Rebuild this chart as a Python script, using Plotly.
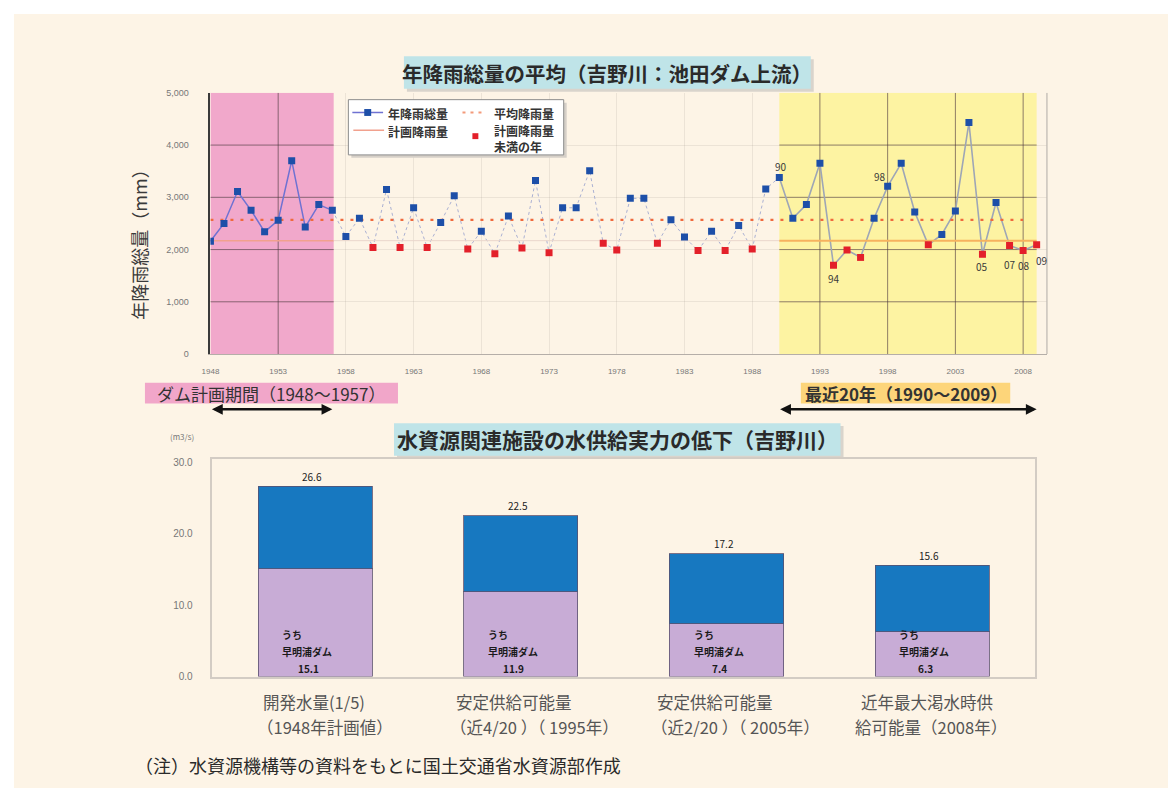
import plotly.graph_objects as go

# ---------------- data: annual rainfall above Ikeda Dam (Yoshino River) ----------------
years = list(range(1948, 2010))
rainfall = [
    2160, 2500, 3110, 2750, 2340, 2560, 3700, 2430, 2860, 2750,   # 1948-1957
    2250, 2600, 2040, 3150, 2040, 2800, 2040, 2520, 3030, 2010,   # 1958-1967
    2350, 1920, 2640, 2030, 3320, 1940, 2800, 2800, 3510, 2120,   # 1968-1977
    1990, 2980, 2980, 2120, 2570, 2240, 1980, 2350, 1980, 2460,   # 1978-1987
    2010, 3160, 3380, 2600, 2860, 3650, 1700, 1990, 1850, 2600,   # 1988-1997
    3210, 3650, 2720, 2090, 2290, 2740, 4430, 1910, 2900, 2080,   # 1998-2007
    1980, 2090,                                                   # 2008-2009
]
plan_rain = 2170          # planned rainfall
mean_rain = 2570          # average rainfall
plan_period = (1948, 1957.1)
recent_period = (1990, 2009)
point_labels = {1990: "90", 1994: "94", 1998: "98", 2005: "05", 2007: "07", 2008: "08", 2009: "09"}

top_xticks = list(range(1948, 2009, 5))
top_yticks = [0, 1000, 2000, 3000, 4000, 5000]
top_yticklabels = ["0", "1,000", "2,000", "3,000", "4,000", "5,000"]

# ---------------- data: water supply capacity ----------------
bar_categories = ["開発水量", "安定供給可能量1995", "安定供給可能量2005", "近年最大渇水時"]
bar_label_line1 = ["開発水量(1/5)", "安定供給可能量", "安定供給可能量", "近年最大渇水時供"]
bar_label_line2 = ["（1948年計画値）", "（近4/20 ）（ 1995年）", "（近2/20 ）（ 2005年）",
                   "給可能量（2008年）"]
supply_total = [26.6, 22.5, 17.2, 15.6]
supply_sameura = [15.1, 11.9, 7.4, 6.3]
supply_other = [round(t - s, 1) for t, s in zip(supply_total, supply_sameura)]
bot_yticks = [0, 10, 20, 30]
bot_yticklabels = ["0.0", "10.0", "20.0", "30.0"]

# ---------------- layout helpers ----------------
W, H = 1168, 794
FONT = "Noto Sans CJK JP"
CREAM = "#fdf4e6"


def px(x):
    return x / W


def py(y):
    return 1 - y / H


fig = go.Figure()


# rainfall line drawn in three styles over the three periods
def segment(lo, hi):
    xs = [y for y in years if lo <= y <= hi]
    vs = [rainfall[years.index(y)] for y in xs]
    return xs, vs


for (lo, hi), style in [
    ((1948, 1957), dict(color="#6f72d2", width=1.5)),
    ((1957, 1990), dict(color="#aab0d2", width=1, dash="dot")),
    ((1990, 2009), dict(color="#9ea6b6", width=1.6)),
]:
    xs, vs = segment(lo, hi)
    fig.add_trace(go.Scatter(x=xs, y=vs, mode="lines", line=style,
                             hoverinfo="skip", showlegend=False, xaxis="x", yaxis="y"))

# planned rainfall line
for (lo, hi), style in [
    ((1948, plan_period[1]), dict(color="#f1a18e", width=1.6)),
    ((plan_period[1], 1990), dict(color="#ead6cc", width=1)),
    ((1990, 2009), dict(color="#f6b25e", width=2)),
]:
    fig.add_trace(go.Scatter(x=[lo, hi], y=[plan_rain, plan_rain], mode="lines", line=style,
                             hoverinfo="skip", showlegend=False, xaxis="x", yaxis="y"))

# average rainfall (dotted)
fig.add_trace(go.Scatter(x=[1948, 2008], y=[mean_rain, mean_rain], mode="lines",
                         line=dict(color="#f0693c", width=2.2, dash="3px,7px"),
                         hoverinfo="skip", showlegend=False, xaxis="x", yaxis="y"))

# yearly markers: red where rainfall fell short of the plan after the planning period
colors = ["#e3202a" if (y > plan_period[1] and v < plan_rain) else "#1d4fa8"
          for y, v in zip(years, rainfall)]
fig.add_trace(go.Scatter(x=years, y=rainfall, mode="markers",
                         marker=dict(symbol="square", size=7, color=colors, line=dict(width=0)),
                         hoverinfo="x+y", showlegend=False, xaxis="x", yaxis="y"))

# stacked supply bars
fig.add_trace(go.Bar(x=bar_categories, y=supply_sameura, marker=dict(color="#c8acd6",
                     line=dict(color="rgba(90,80,110,0.8)", width=1)),
                     showlegend=False, xaxis="x2", yaxis="y2", hoverinfo="y"))
fig.add_trace(go.Bar(x=bar_categories, y=supply_other, marker=dict(color="#1778c0",
                     line=dict(color="rgba(90,80,110,0.8)", width=1)),
                     showlegend=False, xaxis="x2", yaxis="y2", hoverinfo="y"))

shapes = []
annotations = []


def note(x, y, text, size, color="#333", xanchor="center", **kw):
    annotations.append(dict(xref="paper", yref="paper", x=px(x), y=py(y), text=text,
                            showarrow=False, xanchor=xanchor, yanchor="middle",
                            font=dict(family=FONT, size=size, color=color), **kw))


# page background
shapes.append(dict(type="rect", xref="paper", yref="paper", x0=px(5), x1=1, y0=0, y1=py(9),
                   fillcolor=CREAM, line=dict(width=0), layer="below"))

# shaded periods
shapes.append(dict(type="rect", xref="x", yref="y", x0=plan_period[0], x1=plan_period[1],
                   y0=0, y1=5000, fillcolor="#f1a8cb", line=dict(width=0), layer="below"))
shapes.append(dict(type="rect", xref="x", yref="y", x0=recent_period[0], x1=recent_period[1],
                   y0=0, y1=5000, fillcolor="#fdf3a2", line=dict(width=0), layer="below"))

# darker grid inside shaded periods
DARK = "rgba(70,45,55,0.55)"
for lo, hi in [plan_period, recent_period]:
    for yv in top_yticks:
        if 0 < yv < 5000:
            shapes.append(dict(type="line", xref="x", yref="y", x0=lo, x1=hi, y0=yv, y1=yv,
                               line=dict(color=DARK, width=1), layer="between"))
    for xv in top_xticks:
        if lo < xv <= hi:
            shapes.append(dict(type="line", xref="x", yref="y", x0=xv, x1=xv, y0=0, y1=5000,
                               line=dict(color=DARK, width=1), layer="between"))

# right border of the rainfall plot
shapes.append(dict(type="line", xref="paper", yref="y", x0=px(1046), x1=px(1046), y0=0, y1=5000,
                   line=dict(color="#bdb6b0", width=1.2)))


# title boxes (with a soft shadow)
def title_box(x0, x1, y0, y1, text, size):
    shapes.append(dict(type="rect", xref="paper", yref="paper", x0=px(x0 + 3), x1=px(x1 + 3),
                       y0=py(y1 + 3), y1=py(y0 + 3), fillcolor="#d9d4cc", line=dict(width=0),
                       layer="below"))
    shapes.append(dict(type="rect", xref="paper", yref="paper", x0=px(x0), x1=px(x1),
                       y0=py(y1), y1=py(y0), fillcolor="#bfe4e8", line=dict(width=0),
                       layer="below"))
    note((x0 + x1) / 2, (y0 + y1) / 2, f"<b>{text}</b>", size, "#2a2a2a")


title_box(398, 808, 52, 85, "年降雨総量の平均（吉野川：池田ダム上流）", 20.5)
title_box(388, 838, 424, 457, "水資源関連施設の水供給実力の低下（吉野川）", 21)

# hand-built legend
shapes.append(dict(type="rect", xref="paper", yref="paper", x0=px(345), x1=px(562),
                   y0=py(155), y1=py(99), fillcolor="#d6d0c8", line=dict(width=0), layer="above"))
shapes.append(dict(type="rect", xref="paper", yref="paper", x0=px(342), x1=px(559),
                   y0=py(152), y1=py(96), fillcolor="white",
                   line=dict(color="#8c8c8c", width=1), layer="above"))
shapes.append(dict(type="line", xref="paper", yref="paper", x0=px(346), x1=px(377),
                   y0=py(109), y1=py(109), line=dict(color="#6f72d2", width=1.5), layer="above"))
shapes.append(dict(type="rect", xref="paper", yref="paper", x0=px(358), x1=px(365),
                   y0=py(112.5), y1=py(105.5), fillcolor="#1d4fa8", line=dict(width=0),
                   layer="above"))
shapes.append(dict(type="line", xref="paper", yref="paper", x0=px(457), x1=px(479),
                   y0=py(109), y1=py(109),
                   line=dict(color="#f39a7a", width=2, dash="3px,5px"), layer="above"))
shapes.append(dict(type="line", xref="paper", yref="paper", x0=px(347), x1=px(378),
                   y0=py(127), y1=py(127), line=dict(color="#f1a18e", width=1.5), layer="above"))
shapes.append(dict(type="rect", xref="paper", yref="paper", x0=px(467), x1=px(473),
                   y0=py(136), y1=py(130), fillcolor="#e3202a", line=dict(width=0),
                   layer="above"))
for x, y, t in [(380, 110, "年降雨総量"), (487, 110, "平均降雨量"),
                (380, 128, "計画降雨量"), (487, 135, "計画降雨量<br>未満の年")]:
    note(x, y, f"<b>{t}</b>", 12, "#333", xanchor="left", align="left")

# year labels next to selected points
label_offsets = {1990: (2, 11), 1994: (1, -13), 1998: (-8, 10), 2005: (0, -12),
                 2007: (0, -19), 2008: (1, -15), 2009: (5, -16)}
for yr, txt in point_labels.items():
    dx, dy = label_offsets[yr]
    annotations.append(dict(xref="x", yref="y", x=yr, y=rainfall[years.index(yr)], text=txt,
                            showarrow=False, xshift=dx, yshift=dy,
                            xanchor="center", yanchor="middle",
                            font=dict(family=FONT, size=10, color="#3a3a3a")))

# rainfall y-axis title
note(131, 238, "年降雨総量（mm）", 18, "#3a3a3a", textangle=-90)


# period labels with double-headed arrows
def period_label(x0, x1, color, text, bold):
    shapes.append(dict(type="rect", xref="paper", yref="paper", x0=px(x0), x1=px(x1),
                       y0=py(404), y1=py(383), fillcolor=color, line=dict(width=0)))
    note((x0 + x1) / 2, 393.5, f"<b>{text}</b>" if bold else text, 17, "#333")


period_label(137, 392, "#f1a6c9", "ダム計画期間（1948～1957）", False)
period_label(798, 1009, "#fdd57a", "最近20年（1990～2009）", True)
for a, b in [(1948, 1957), (recent_period[0] - 0.05, recent_period[1])]:
    annotations.append(dict(xref="x", yref="paper", x=b, y=py(410), axref="x", ayref="pixel",
                            ax=a, ay=0, text="", showarrow=True, arrowhead=2,
                            arrowside="end+start", arrowwidth=2.4, arrowsize=0.9,
                            arrowcolor="#111"))

# supply chart labels
note(174, 438, "(m3/s)", 8, "#777")
label_shift = [-54, -67, -72, -73]
for cat, tot, sub, l1, l2, dx in zip(bar_categories, supply_total, supply_sameura,
                                     bar_label_line1, bar_label_line2, label_shift):
    common = dict(xref="x2", yref="y2", x=cat, showarrow=False, yanchor="middle")
    annotations.append(dict(y=tot, text=f"{tot:.1f}", yshift=10, xshift=-3, xanchor="center",
                            font=dict(family=FONT, size=10, color="#222"), **common))
    annotations.append(dict(y=0, text="<b>うち</b>", xanchor="left", yshift=42, xshift=-35,
                            font=dict(family=FONT, size=10, color="#1a1a1a"), **common))
    annotations.append(dict(y=0, text="<b>早明浦ダム</b>", xanchor="left", yshift=25, xshift=-35,
                            font=dict(family=FONT, size=10, color="#1a1a1a"), **common))
    annotations.append(dict(y=0, text=f"<b>{sub:.1f}</b>", xanchor="center", yshift=8, xshift=-7,
                            font=dict(family=FONT, size=10, color="#1a1a1a"), **common))
    # two-line category caption under each bar
    annotations.append(dict(y=0, text=l1, xanchor="left", yshift=-25, xshift=dx,
                            font=dict(family=FONT, size=16.5, color="#555"), **common))
    annotations.append(dict(y=0, text=l2, xanchor="left", yshift=-50, xshift=dx - 6,
                            font=dict(family=FONT, size=16.5, color="#555"), **common))

# footnote
note(125, 771, "（注）水資源機構等の資料をもとに国土交通省水資源部作成", 18, "#2a2a2a",
     xanchor="left")

fig.update_layout(
    width=W, height=H,
    margin=dict(l=0, r=0, t=0, b=0),
    paper_bgcolor="white",
    plot_bgcolor="rgba(0,0,0,0)",
    font=dict(family=FONT, color="#555"),
    barmode="stack",
    bargap=0.445,
    shapes=shapes,
    annotations=annotations,
    xaxis=dict(domain=[px(203), px(1046)], range=[1948, 2009.76], anchor="y",
               tickvals=top_xticks, ticktext=[str(t) for t in top_xticks],
               tickfont=dict(family="Liberation Sans", size=8, color="#777"),
               ticks="outside", ticklen=9, tickcolor="rgba(0,0,0,0)",
               showgrid=True, gridcolor="rgba(150,140,130,0.16)", zeroline=False,
               showline=True, linecolor="#b5aea8", linewidth=1.2),
    yaxis=dict(domain=[py(354), py(89)], range=[0, 5000], anchor="x",
               tickvals=top_yticks, ticktext=top_yticklabels,
               tickfont=dict(family="Liberation Sans", size=9, color="#777"),
               ticks="outside", ticklen=18, tickcolor="rgba(0,0,0,0)",
               showgrid=True, gridcolor="rgba(150,140,130,0.16)", zeroline=False,
               showline=True, linecolor="#3a3a3a", linewidth=1.5),
    xaxis2=dict(domain=[px(205), px(1034)], anchor="y2", type="category",
                showticklabels=False, ticks="",
                showline=True, linecolor="#d3ccc4", linewidth=1.5, mirror=True,
                showgrid=False, zeroline=False),
    yaxis2=dict(domain=[py(681), py(460)], range=[0, 30.5], anchor="x2",
                tickvals=bot_yticks, ticktext=bot_yticklabels,
                tickfont=dict(family="Liberation Sans", size=10, color="#777"),
                ticks="outside", ticklen=16, tickcolor="rgba(0,0,0,0)",
                showline=True, linecolor="#d3ccc4", linewidth=1.5, mirror=True,
                showgrid=False, zeroline=False),
)

# the page body gets no default margin, so the figure fills the window exactly
fig.write_html("out.html", post_script="document.body.style.margin = '0';")
